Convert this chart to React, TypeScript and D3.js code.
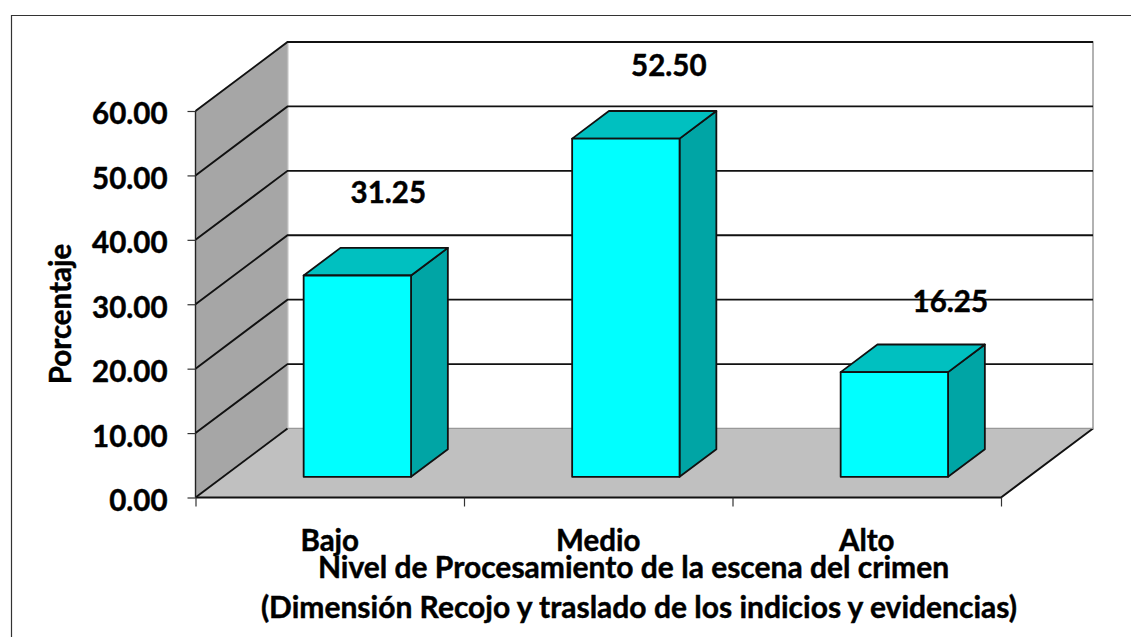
import React, { useEffect, useRef } from "react";
import * as d3 from "d3";

const categories = ["Bajo", "Medio", "Alto"];
const values = [31.25, 52.5, 16.25];
const yTicks = [0, 10, 20, 30, 40, 50, 60];
const xTitleLines = [
  "Nivel de Procesamiento de la escena del crimen",
  "(Dimensión Recojo y traslado de los indicios y evidencias)",
];

// the labels were dragged by hand in the original chart
const labelShiftX = [31, 43, 56];
const labelShiftY = [-84, -74, -72];

const FONT = "Lato, Carlito, sans-serif";
const FONT_SIZE = 29.5;
const width = 1131;
const height = 637;

const App: React.FC = () => {
  const ref = useRef<SVGSVGElement | null>(null);

  useEffect(() => {
    if (!ref.current) return;
    const svg = d3.select(ref.current);
    svg.selectAll("*").remove();

    const x = d3.scaleBand<string>().domain(categories).range([195.5, 1001]);
    const y = d3.scaleLinear().domain([0, 60]).range([497.5, 111]);
    // depth goes from 0 (front) to 1 (back wall)
    const depthX = d3.scaleLinear().domain([0, 1]).range([0, 92]);
    const depthY = d3.scaleLinear().domain([0, 1]).range([0, -69]);
    const px = (cx: number, d: number) => cx + depthX(d);
    const py = (v: number, d: number) => y(v) + depthY(d);
    const poly = d3.line<[number, number]>().x(d => d[0]).y(d => d[1]);
    const closed = (pts: [number, number][]) => poly(pts) + "Z";

    const x0 = x.range()[0];
    const x1 = x.range()[1];

    const boldText = (sel: any) =>
      sel
        .attr("font-family", FONT)
        .attr("font-weight", 700)
        .attr("font-size", FONT_SIZE)
        .attr("fill", "#000")
        .attr("stroke", "#000")
        .attr("stroke-width", 0.45);

    // outer frame, open on the right and at the bottom
    svg.append("path")
      .attr("d", `M${11.5},${height}V15.5H${width}`)
      .attr("fill", "none")
      .attr("stroke", "#333")
      .attr("stroke-width", 1.2);

    // back wall
    svg.append("path")
      .attr("d", closed([[px(x0, 1), py(0, 1)], [px(x0, 1), py(60, 1)], [px(x1, 1), py(60, 1)], [px(x1, 1), py(0, 1)]]))
      .attr("fill", "#fff")
      .attr("stroke", "#999")
      .attr("stroke-width", 1.5);

    // side wall
    svg.append("path")
      .attr("d", closed([[px(x0, 0), py(0, 0)], [px(x0, 0), py(60, 0)], [px(x0, 1), py(60, 1)], [px(x0, 1), py(0, 1)]]))
      .attr("fill", "#a6a6a6");

    // floor
    svg.append("path")
      .attr("d", closed([[px(x0, 0), py(0, 0)], [px(x1, 0), py(0, 0)], [px(x1, 1), py(0, 1)], [px(x0, 1), py(0, 1)]]))
      .attr("fill", "#c0c0c0");

    // floor edges
    svg.append("path")
      .attr("d", poly([[px(x0, 0), py(0, 0)], [px(x1, 0), py(0, 0)], [px(x1, 1), py(0, 1)]]))
      .attr("fill", "none")
      .attr("stroke", "#111")
      .attr("stroke-width", 1.9);
    svg.append("path")
      .attr("d", poly([[px(x0, 1), py(0, 1)], [px(x1, 1), py(0, 1)]]))
      .attr("stroke", "#999")
      .attr("stroke-width", 1.2);
    svg.append("path")
      .attr("d", poly([[px(x0, 1), py(0, 1)], [px(x0, 1), py(60, 1)]]))
      .attr("stroke", "#bbb")
      .attr("stroke-width", 1.2);

    // gridlines wrap from the side wall onto the back wall
    svg.append("g")
      .selectAll("path")
      .data(yTicks)
      .join("path")
      .attr("d", v => v === 0
        ? poly([[px(x0, 0), py(v, 0)], [px(x0, 1), py(v, 1)]])
        : poly([[px(x0, 0), py(v, 0)], [px(x0, 1), py(v, 1)], [px(x1, 1), py(v, 1)]]))
      .attr("fill", "none")
      .attr("stroke", "#111")
      .attr("stroke-width", 1.9);

    // bars
    const barWidth = x.bandwidth() * 0.4;
    const front = 0.3;
    const back = 0.7;
    const bars = svg.append("g")
      .selectAll("g")
      .data(categories)
      .join("g")
      .attr("stroke", "#111")
      .attr("stroke-width", 1.8)
      .attr("stroke-linejoin", "round");

    const left = (c: string) => x(c)! + (x.bandwidth() - barWidth) / 2;
    const top = (i: number) => values[i];

    bars.append("path")
      .attr("fill", "#00a5a5")
      .attr("d", (c, i) => {
        const r = left(c) + barWidth;
        return closed([[px(r, front), py(0, front)], [px(r, front), py(top(i), front)], [px(r, back), py(top(i), back)], [px(r, back), py(0, back)]]);
      });
    bars.append("path")
      .attr("fill", "#00c0c0")
      .attr("d", (c, i) => {
        const l = left(c);
        const r = l + barWidth;
        return closed([[px(l, front), py(top(i), front)], [px(r, front), py(top(i), front)], [px(r, back), py(top(i), back)], [px(l, back), py(top(i), back)]]);
      });
    bars.append("path")
      .attr("fill", "#00ffff")
      .attr("d", (c, i) => {
        const l = left(c);
        const r = l + barWidth;
        return closed([[px(l, front), py(0, front)], [px(l, front), py(top(i), front)], [px(r, front), py(top(i), front)], [px(r, front), py(0, front)]]);
      });

    // value axis
    const yAxis = svg.append("g")
      .attr("transform", `translate(${x0},0)`)
      .call(d3.axisLeft(y).tickValues(yTicks).tickSize(8).tickPadding(20).tickFormat(d => d3.format(".2f")(d as number)));
    yAxis.select(".domain").attr("stroke", "#222").attr("stroke-width", 1.4).attr("d", `M0,${y(60)}V${y(0)}`);
    yAxis.selectAll("line").attr("stroke", "#333").attr("stroke-width", 1.2);
    yAxis.selectAll("text").call(boldText).attr("dy", "0.44em");

    // category boundaries
    const boundary = d3.scaleLinear().domain([0, categories.length]).range([x0, x1]);
    const xAxis = svg.append("g")
      .attr("transform", `translate(0,${y(0)})`)
      .call(d3.axisBottom(boundary).tickValues(d3.range(categories.length + 1)).tickSize(9).tickFormat(() => ""));
    xAxis.select(".domain").remove();
    xAxis.selectAll("line").attr("stroke", "#333").attr("stroke-width", 1.2);

    // category labels
    const catAxis = svg.append("g")
      .attr("transform", `translate(0,${y(0)})`)
      .call(d3.axisBottom(x).tickSize(0).tickPadding(33));
    catAxis.select(".domain").remove();
    catAxis.selectAll("text").call(boldText);

    // value labels
    svg.append("g")
      .selectAll("text")
      .data(values)
      .join("text")
      .attr("x", (_, i) => px(left(categories[i]) + barWidth / 2, front) + labelShiftX[i])
      .attr("y", (v, i) => py(v, front) + labelShiftY[i] + 11.5)
      .attr("text-anchor", "middle")
      .call(boldText)
      .text(v => d3.format(".2f")(v));

    // titles
    svg.append("text")
      .attr("transform", "translate(71,314) rotate(-90)")
      .attr("text-anchor", "middle")
      .call(boldText)
      .text("Porcentaje");

    svg.append("g")
      .selectAll("text")
      .data(xTitleLines)
      .join("text")
      .attr("x", (_, i) => (i === 0 ? 633.5 : 639))
      .attr("y", (_, i) => (i === 0 ? 578 : 618))
      .attr("text-anchor", "middle")
      .call(boldText)
      .attr("font-size", 30)
      .text(d => d);
  }, []);

  return (
    <svg
      ref={ref}
      width={width}
      height={height}
      style={{ position: "absolute", left: 0, top: 0, display: "block", background: "#fff" }}
    />
  );
};

export default App;
